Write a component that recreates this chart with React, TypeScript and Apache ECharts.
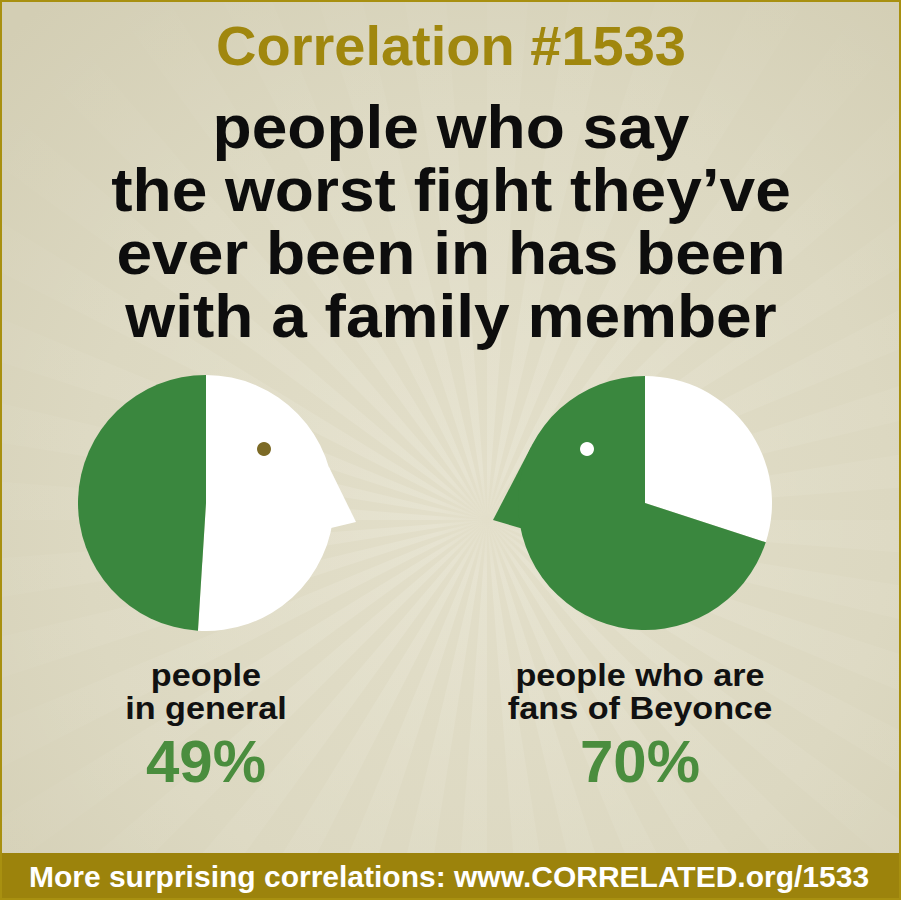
import { useEffect, useRef } from 'react';
import * as echarts from 'echarts';

// chart content
const TITLE = 'Correlation #1533';
const QUESTION = [
  'people who say',
  'the worst fight they’ve',
  'ever been in has been',
  'with a family member',
];
const GROUPS = ['people\nin general', 'people who are\nfans of Beyonce'];
const PERCENTS = [49, 70];
const SOURCE = 'More surprising correlations: www.CORRELATED.org/1533';

const GREEN = '#3a873e';
const TEXT_GREEN = '#4a8d3e';
const OLIVE = '#a0870e';
const FONT = '"Liberation Sans", Arial, Helvetica, sans-serif';

// head layout (center x, center y, radius, facing)
const HEADS = [
  { cx: 206, cy: 503, r: 128, face: 1 },
  { cx: 645, cy: 503, r: 127, face: -1 },
];

export default function App() {
  const chartRef = useRef<HTMLDivElement>(null);

  useEffect(() => {
    if (!chartRef.current) return;
    document.body.style.margin = '0';
    const chart = echarts.init(chartRef.current, null, { renderer: 'svg' });

    // sunburst rays behind everything
    const rayCx = 487;
    const rayCy = 520;
    const rays: any[] = [];
    const N = 40;
    for (let i = 0; i < N; i++) {
      const a1 = (i / N) * Math.PI * 2;
      const a2 = a1 + Math.PI / N;
      const R = 1100;
      rays.push({
        type: 'polygon',
        z: 1,
        silent: true,
        shape: {
          points: [
            [rayCx, rayCy],
            [rayCx + R * Math.cos(a1), rayCy + R * Math.sin(a1)],
            [rayCx + R * Math.cos(a2), rayCy + R * Math.sin(a2)],
          ],
        },
        style: {
          fill: new echarts.graphic.RadialGradient(
            rayCx,
            rayCy,
            650,
            [
              { offset: 0, color: 'rgba(255,255,250,0.02)' },
              { offset: 0.08, color: 'rgba(255,255,250,0.16)' },
              { offset: 0.45, color: 'rgba(255,255,250,0.08)' },
              { offset: 1, color: 'rgba(255,255,250,0.0)' },
            ],
            true
          ),
        },
      });
    }

    const beaks = HEADS.map((h, i) => {
      const pts =
        h.face === 1
          ? [
              [h.cx + 100, h.cy - 40],
              [h.cx + 123, h.cy - 36],
              [h.cx + 150, h.cy + 19],
              [h.cx + 125, h.cy + 25],
              [h.cx + 100, h.cy + 25],
            ]
          : [
              [h.cx - 100, h.cy - 60],
              [h.cx - 114, h.cy - 56],
              [h.cx - 152, h.cy + 17],
              [h.cx - 125, h.cy + 25],
              [h.cx - 100, h.cy + 25],
            ];
      // beak takes the colour of the slice it sticks out of
      return {
        type: 'polygon',
        z: 3,
        silent: true,
        shape: { points: pts },
        style: { fill: i === 0 ? '#ffffff' : GREEN },
      };
    });

    const eyes = HEADS.map((h, i) => ({
      type: 'circle',
      z: 10,
      silent: true,
      shape: { cx: h.cx + h.face * 58, cy: h.cy - 54, r: 7 },
      style: { fill: i === 0 ? '#7c6a26' : '#ffffff' },
    }));

    const textEl = (
      text: string,
      x: number,
      y: number,
      size: number,
      fill: string,
      extra: any = {}
    ) => ({
      type: 'text',
      z: 10,
      x,
      y,
      scaleX: extra.scaleX ?? 1,
      style: {
        text,
        fill,
        align: 'center',
        verticalAlign: extra.lineHeight ? 'top' : 'middle',
        fontSize: size,
        fontWeight: 'bold',
        fontFamily: FONT,
        lineHeight: extra.lineHeight,
      },
    });

    const labels = GROUPS.map((g, i) =>
      textEl(g, i === 0 ? 206 : 640, 658, 32, '#111111', { lineHeight: 33, scaleX: 1.07 })
    );

    const pcts = PERCENTS.map((p, i) => textEl(p + '%', i === 0 ? 206 : 640, 761, 60, TEXT_GREEN));

    const option: echarts.EChartsOption = {
      animation: false,
      backgroundColor: '#dcd7c0',
      graphic: {
        elements: [
          {
            type: 'rect',
            z: 0,
            silent: true,
            shape: { x: 0, y: 0, width: 901, height: 900 },
            style: {
              fill: new echarts.graphic.RadialGradient(0.54, 0.57, 0.75, [
                { offset: 0, color: '#e3dfca' },
                { offset: 0.6, color: '#dcd8c1' },
                { offset: 1, color: '#d3ceb4' },
              ]),
            },
          },
          ...rays,
          ...beaks,
          ...eyes,
          textEl(TITLE, 451, 45, 56, OLIVE),
          textEl(QUESTION.join('\n'), 451, 95, 61, '#0d0d0d', { lineHeight: 63, scaleX: 1.05 }),
          ...labels,
          ...pcts,
          {
            type: 'rect',
            z: 8,
            silent: true,
            shape: { x: 0, y: 853, width: 901, height: 47 },
            style: { fill: '#9c830c' },
          },
          textEl(SOURCE, 449, 876, 30, '#ffffff'),
          {
            type: 'rect',
            z: 12,
            silent: true,
            shape: { x: 1, y: 1, width: 899, height: 898 },
            style: { fill: 'none', stroke: '#a89010', lineWidth: 2 },
          },
        ],
      },
      series: HEADS.map((h, i) => ({
        type: 'pie',
        z: 5,
        silent: true,
        center: [h.cx, h.cy],
        radius: h.r,
        startAngle: 90,
        clockwise: true,
        label: { show: false },
        labelLine: { show: false },
        emphasis: { disabled: true },
        itemStyle: { borderWidth: 0 },
        data: [
          { value: 100 - PERCENTS[i], name: 'other', itemStyle: { color: '#ffffff' } },
          { value: PERCENTS[i], name: GROUPS[i].replace('\n', ' '), itemStyle: { color: GREEN } },
        ],
      })),
    };

    chart.setOption(option);
    return () => chart.dispose();
  }, []);

  return <div ref={chartRef} style={{ width: 901, height: 900 }} />;
}
